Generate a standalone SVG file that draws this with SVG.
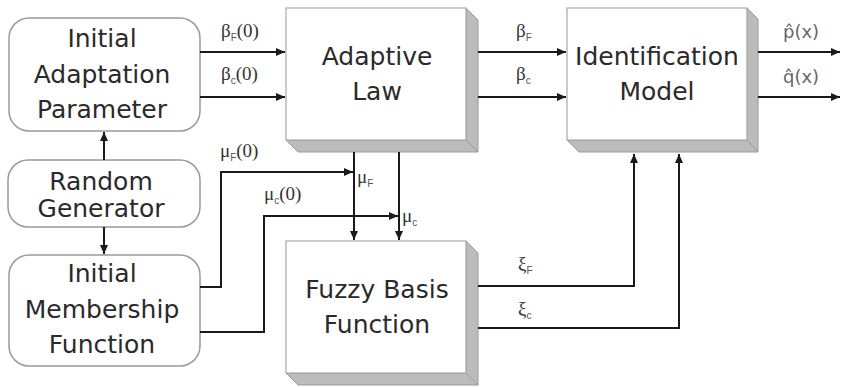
<svg xmlns="http://www.w3.org/2000/svg" width="841" height="387" viewBox="0 0 841 387">
<style>
.bg{fill:#ffffff}
.rbox{fill:#ffffff;stroke:#9a9a9a;stroke-width:1.5}
.face{fill:#ffffff;stroke:#a8a8a8;stroke-width:1.2}
.side{fill:#bcbcbc;stroke:#9a9a9a;stroke-width:1}
.t{font-family:"DejaVu Sans","Liberation Sans",sans-serif;font-size:25px;fill:#2a2a2a;text-anchor:middle}
.lbl{font-family:"Liberation Serif",serif;font-size:19px;fill:#333}
.lbs{font-family:"DejaVu Sans","Liberation Sans",sans-serif;font-size:18px;fill:#666}
.sub{font-family:"Liberation Sans",sans-serif;font-size:10px;fill:#555}
.c{fill:none;stroke:#1a1a1a;stroke-width:2}
</style>
<defs>
<marker id="ah" markerUnits="userSpaceOnUse" markerWidth="10" markerHeight="9" refX="9" refY="4" orient="auto">
<path d="M0,0 L9,4 L0,8 z" fill="#1a1a1a"/>
</marker>
</defs>
<rect class="bg" x="0" y="0" width="841" height="387"/>

<g id="initial-adaptation-parameter">
<rect class="rbox" x="9" y="18" width="191" height="113" rx="20" ry="20"/>
<text class="t" x="102" y="47">Initial</text>
<text class="t" x="102" y="83">Adaptation</text>
<text class="t" x="102" y="118">Parameter</text>
</g>

<g id="random-generator">
<rect class="rbox" x="8" y="160" width="192" height="67" rx="20" ry="20"/>
<text class="t" x="101" y="190">Random</text>
<text class="t" x="101" y="217">Generator</text>
</g>

<g id="initial-membership-function">
<rect class="rbox" x="9" y="255" width="191" height="111" rx="20" ry="20"/>
<text class="t" x="102" y="282">Initial</text>
<text class="t" x="102" y="318">Membership</text>
<text class="t" x="102" y="353">Function</text>
</g>

<g id="adaptive-law">
<polygon class="side" points="466,8 478,20 478,152 466,140"/>
<polygon class="side" points="286,140 466,140 478,152 298,152"/>
<rect class="face" x="286" y="8" width="180" height="132"/>
<text class="t" x="377" y="65">Adaptive</text>
<text class="t" x="377" y="100">Law</text>
</g>

<g id="identification-model">
<polygon class="side" points="747,8 758,19 758,152 747,140"/>
<polygon class="side" points="567,140 747,140 758,152 579,152"/>
<rect class="face" x="567" y="8" width="180" height="132"/>
<text class="t" x="657" y="65">Identification</text>
<text class="t" x="657" y="100">Model</text>
</g>

<g id="fuzzy-basis-function">
<polygon class="side" points="466,241 478,253 478,385 466,373"/>
<polygon class="side" points="286,373 466,373 478,385 298,385"/>
<rect class="face" x="286" y="241" width="180" height="132"/>
<text class="t" x="377" y="298">Fuzzy Basis</text>
<text class="t" x="377" y="333">Function</text>
</g>

<g id="connectors">
<path class="c" d="M104,160 V132" marker-end="url(#ah)"/>
<path class="c" d="M104,227 V254" marker-end="url(#ah)"/>
<path class="c" d="M200,52 H285" marker-end="url(#ah)"/>
<path class="c" d="M200,97 H285" marker-end="url(#ah)"/>
<path class="c" d="M478,52 H566" marker-end="url(#ah)"/>
<path class="c" d="M478,97 H566" marker-end="url(#ah)"/>
<path class="c" d="M758,52 H840" marker-end="url(#ah)"/>
<path class="c" d="M758,97 H840" marker-end="url(#ah)"/>
<path class="c" d="M354,152 V240" marker-end="url(#ah)"/>
<path class="c" d="M399,152 V240" marker-end="url(#ah)"/>
<path class="c" d="M200,287 H221 V172 H353" marker-end="url(#ah)"/>
<path class="c" d="M200,332 H264 V216 H398" marker-end="url(#ah)"/>
<path class="c" d="M478,286 H634 V154" marker-end="url(#ah)"/>
<path class="c" d="M478,328 H679 V154" marker-end="url(#ah)"/>
</g>

<g id="labels">
<text class="lbl" x="221" y="37">β<tspan class="sub" dy="4">F</tspan><tspan dy="-4">(0)</tspan></text>
<text class="lbl" x="221" y="80">β<tspan class="sub" dy="4">c</tspan><tspan dy="-4">(0)</tspan></text>
<text class="lbl" x="516" y="37">β<tspan class="sub" dy="4">F</tspan></text>
<text class="lbl" x="516" y="80">β<tspan class="sub" dy="4">c</tspan></text>
<text class="lbs" x="783" y="38">p̂(x)</text>
<text class="lbs" x="783" y="83">q̂(x)</text>
<text class="lbl" x="220" y="157">μ<tspan class="sub" dy="4">F</tspan><tspan dy="-4">(0)</tspan></text>
<text class="lbl" x="264" y="200">μ<tspan class="sub" dy="4">c</tspan><tspan dy="-4">(0)</tspan></text>
<text class="lbl" x="357" y="183">μ<tspan class="sub" dy="4">F</tspan></text>
<text class="lbl" x="402" y="222">μ<tspan class="sub" dy="4">c</tspan></text>
<text class="lbl" x="518" y="270">ξ<tspan class="sub" dy="4">F</tspan></text>
<text class="lbl" x="518" y="315">ξ<tspan class="sub" dy="4">c</tspan></text>
</g>
</svg>
